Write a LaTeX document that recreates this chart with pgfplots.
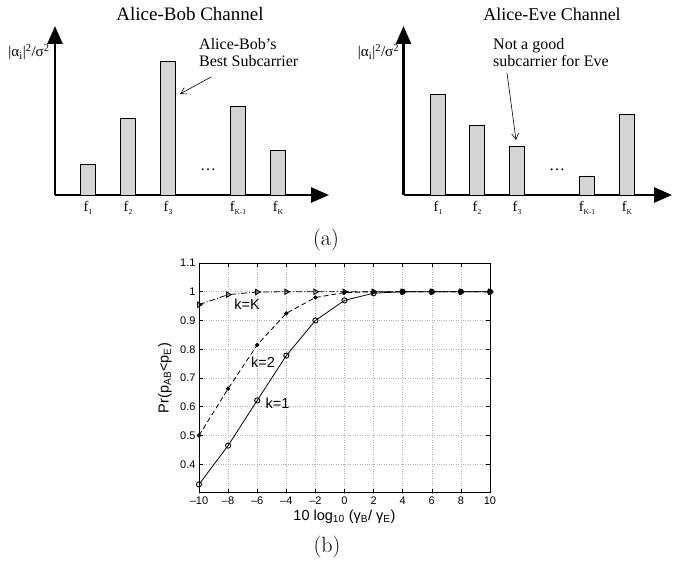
\documentclass[border=0pt]{standalone}
\usepackage{fontspec}
\usepackage{pgfplots}
\pgfplotsset{compat=1.18}
\usetikzlibrary{arrows.meta}
\newfontfamily\tnr{Liberation Serif}
\newfontfamily\hv{Liberation Sans}
\definecolor{barfill}{RGB}{212,212,212}
\newcommand\fs[1]{f\raisebox{-2.5pt}{\fontsize{7.5}{8}\selectfont #1}}

\begin{document}
\begin{tikzpicture}[x=1pt,y=1pt]
\path[use as bounding box] (0,0) rectangle (673,-561);

\pgfplotsset{
  chan/.style={
    scale only axis, height=169pt,
    ymin=0, ymax=169,
    axis lines=left, enlargelimits=false,
    axis line style={line width=2.6pt, -{Triangle[length=18pt,width=15pt]}},
    ytick=\empty,
    xtick style={draw=none},
    xticklabel style={font=\tnr\fontsize{14.5}{16}\selectfont, yshift=-1pt},
    clip=false,
  }
}

% ---------- Alice-Bob channel ----------
\begin{axis}[chan, at={(55pt,-195pt)}, anchor=south west,
  width=274pt, xmin=0, xmax=274,
  xtick={33,73,113,183,223},
  xticklabels={\fs{1},\fs{2},\fs{3},\fs{K-1},\fs{K}}]
\addplot[ybar, bar width=15.7pt, fill=barfill, draw=black, line width=0.8pt]
  coordinates {(33,31) (73,77) (113,133.5) (183,89) (223,44.7)};
\node[font=\tnr\fontsize{16}{18}\selectfont] at (axis cs:153,25) {…};
\end{axis}

% ---------- Alice-Eve channel ----------
\begin{axis}[chan, at={(403.5pt,-195pt)}, anchor=south west,
  width=268.5pt, xmin=0, xmax=268.5,
  xtick={34.5,73.5,113.5,183.5,223.5},
  xticklabels={\fs{1},\fs{2},\fs{3},\fs{K-1},\fs{K}}]
\addplot[ybar, bar width=15.7pt, fill=barfill, draw=black, line width=0.8pt]
  coordinates {(34.5,100.7) (73.5,70) (113.5,49) (183.5,19) (223.5,81)};
\node[font=\tnr\fontsize{16}{18}\selectfont] at (axis cs:153.5,25) {…};
\end{axis}

% titles, labels, annotations
\node[font=\tnr\fontsize{19}{21}\selectfont, anchor=base] at (190,-20.7) {Alice-Bob Channel};
\node[font=\tnr\fontsize{18}{21}\selectfont, anchor=base] at (552,-20.7) {Alice-Eve Channel};
\node[font=\tnr\fontsize{15}{17}\selectfont, anchor=base] at (29,-57) {|α\textsubscript{i}|\textsuperscript{2}/σ\textsuperscript{2}};
\node[font=\tnr\fontsize{15}{17}\selectfont, anchor=base] at (378.5,-57) {|α\textsubscript{i}|\textsuperscript{2}/σ\textsuperscript{2}};
\node[font=\tnr\fontsize{16}{18}\selectfont, anchor=base west, inner sep=0pt] at (199,-50) {Alice-Bob’s};
\node[font=\tnr\fontsize{16}{18}\selectfont, anchor=base west, inner sep=0pt] at (199,-67) {Best Subcarrier};
\node[font=\tnr\fontsize{16}{18}\selectfont, anchor=base west, inner sep=0pt] at (493,-50) {Not a good};
\node[font=\tnr\fontsize{16}{18}\selectfont, anchor=base west, inner sep=0pt] at (493,-67) {subcarrier for Eve};
\draw[line width=0.6pt, -{Straight Barb[length=6pt,width=7pt]}] (211,-77) -- (180,-94);
\draw[line width=0.6pt, -{Straight Barb[length=6pt,width=7pt]}] (507,-73) -- (516,-140);

\node[font=\fontsize{22}{24}\selectfont] at (326,-240) {(a)};
\node[font=\fontsize{22}{24}\selectfont] at (327,-547) {(b)};

% ---------- probability plot ----------
\begin{axis}[at={(199pt,-493pt)}, anchor=south west, scale only axis,
  width=291pt, height=230pt,
  xmin=-10, xmax=10, ymin=0.3, ymax=1.1,
  xtick={-10,-8,-6,-4,-2,0,2,4,6,8,10},
  xticklabels={\textendash10,\textendash8,\textendash6,\textendash4,\textendash2,0,2,4,6,8,10},
  ytick={0.4,0.5,0.6,0.7,0.8,0.9,1,1.1},
  yticklabels={0.4,0.5,0.6,0.7,0.8,0.9,1,1.1},
  grid=major, grid style={dotted, gray!60, line width=0.6pt},
  tick align=inside, major tick length=4pt,
  axis line style={line width=1pt},
  tick style={black, line width=0.6pt},
  tick label style={font=\hv\fontsize{11}{13}\selectfont},
  label style={font=\hv\fontsize{14.5}{17}\selectfont},
  xlabel={10 log\textsubscript{10} (γ\textsubscript{B}/ γ\textsubscript{E})},
  ylabel={Pr(p\textsubscript{AB}<p\textsubscript{E})},
  xlabel style={at={(axis description cs:0.5,-0.121)}, anchor=base},
  ylabel style={at={(axis description cs:-0.117,0.5)}, anchor=center},
  clip=false,
]
\addplot[black, line width=0.8pt, dash pattern=on 6pt off 2pt on 1pt off 2pt,
  mark=triangle, mark size=3pt, mark options={solid, rotate=-90, line width=1pt}]
  coordinates {(-10,0.955) (-8,0.99) (-6,0.999) (-4,1) (-2,1) (0,1) (2,1) (4,1) (6,1) (8,1) (10,1)};
\addplot[black, line width=0.8pt, dash pattern=on 5pt off 3pt,
  mark=*, mark size=1.7pt, mark options={solid}]
  coordinates {(-10,0.50) (-8,0.663) (-6,0.815) (-4,0.925) (-2,0.98) (0,0.997) (2,1) (4,1) (6,1) (8,1) (10,1)};
\addplot[black, line width=0.8pt, mark=o, mark size=2.6pt, mark options={line width=0.9pt}]
  coordinates {(-10,0.33) (-8,0.465) (-6,0.622) (-4,0.778) (-2,0.90) (0,0.97) (2,0.995) (4,1) (6,1) (8,1) (10,1)};
\node[font=\hv\fontsize{14.5}{16}\selectfont] at (axis cs:-6.7,0.955) {k=K};
\node[font=\hv\fontsize{14.5}{16}\selectfont] at (axis cs:-5.6,0.755) {k=2};
\node[font=\hv\fontsize{14.5}{16}\selectfont] at (axis cs:-4.6,0.612) {k=1};
\end{axis}
\end{tikzpicture}
\end{document}
